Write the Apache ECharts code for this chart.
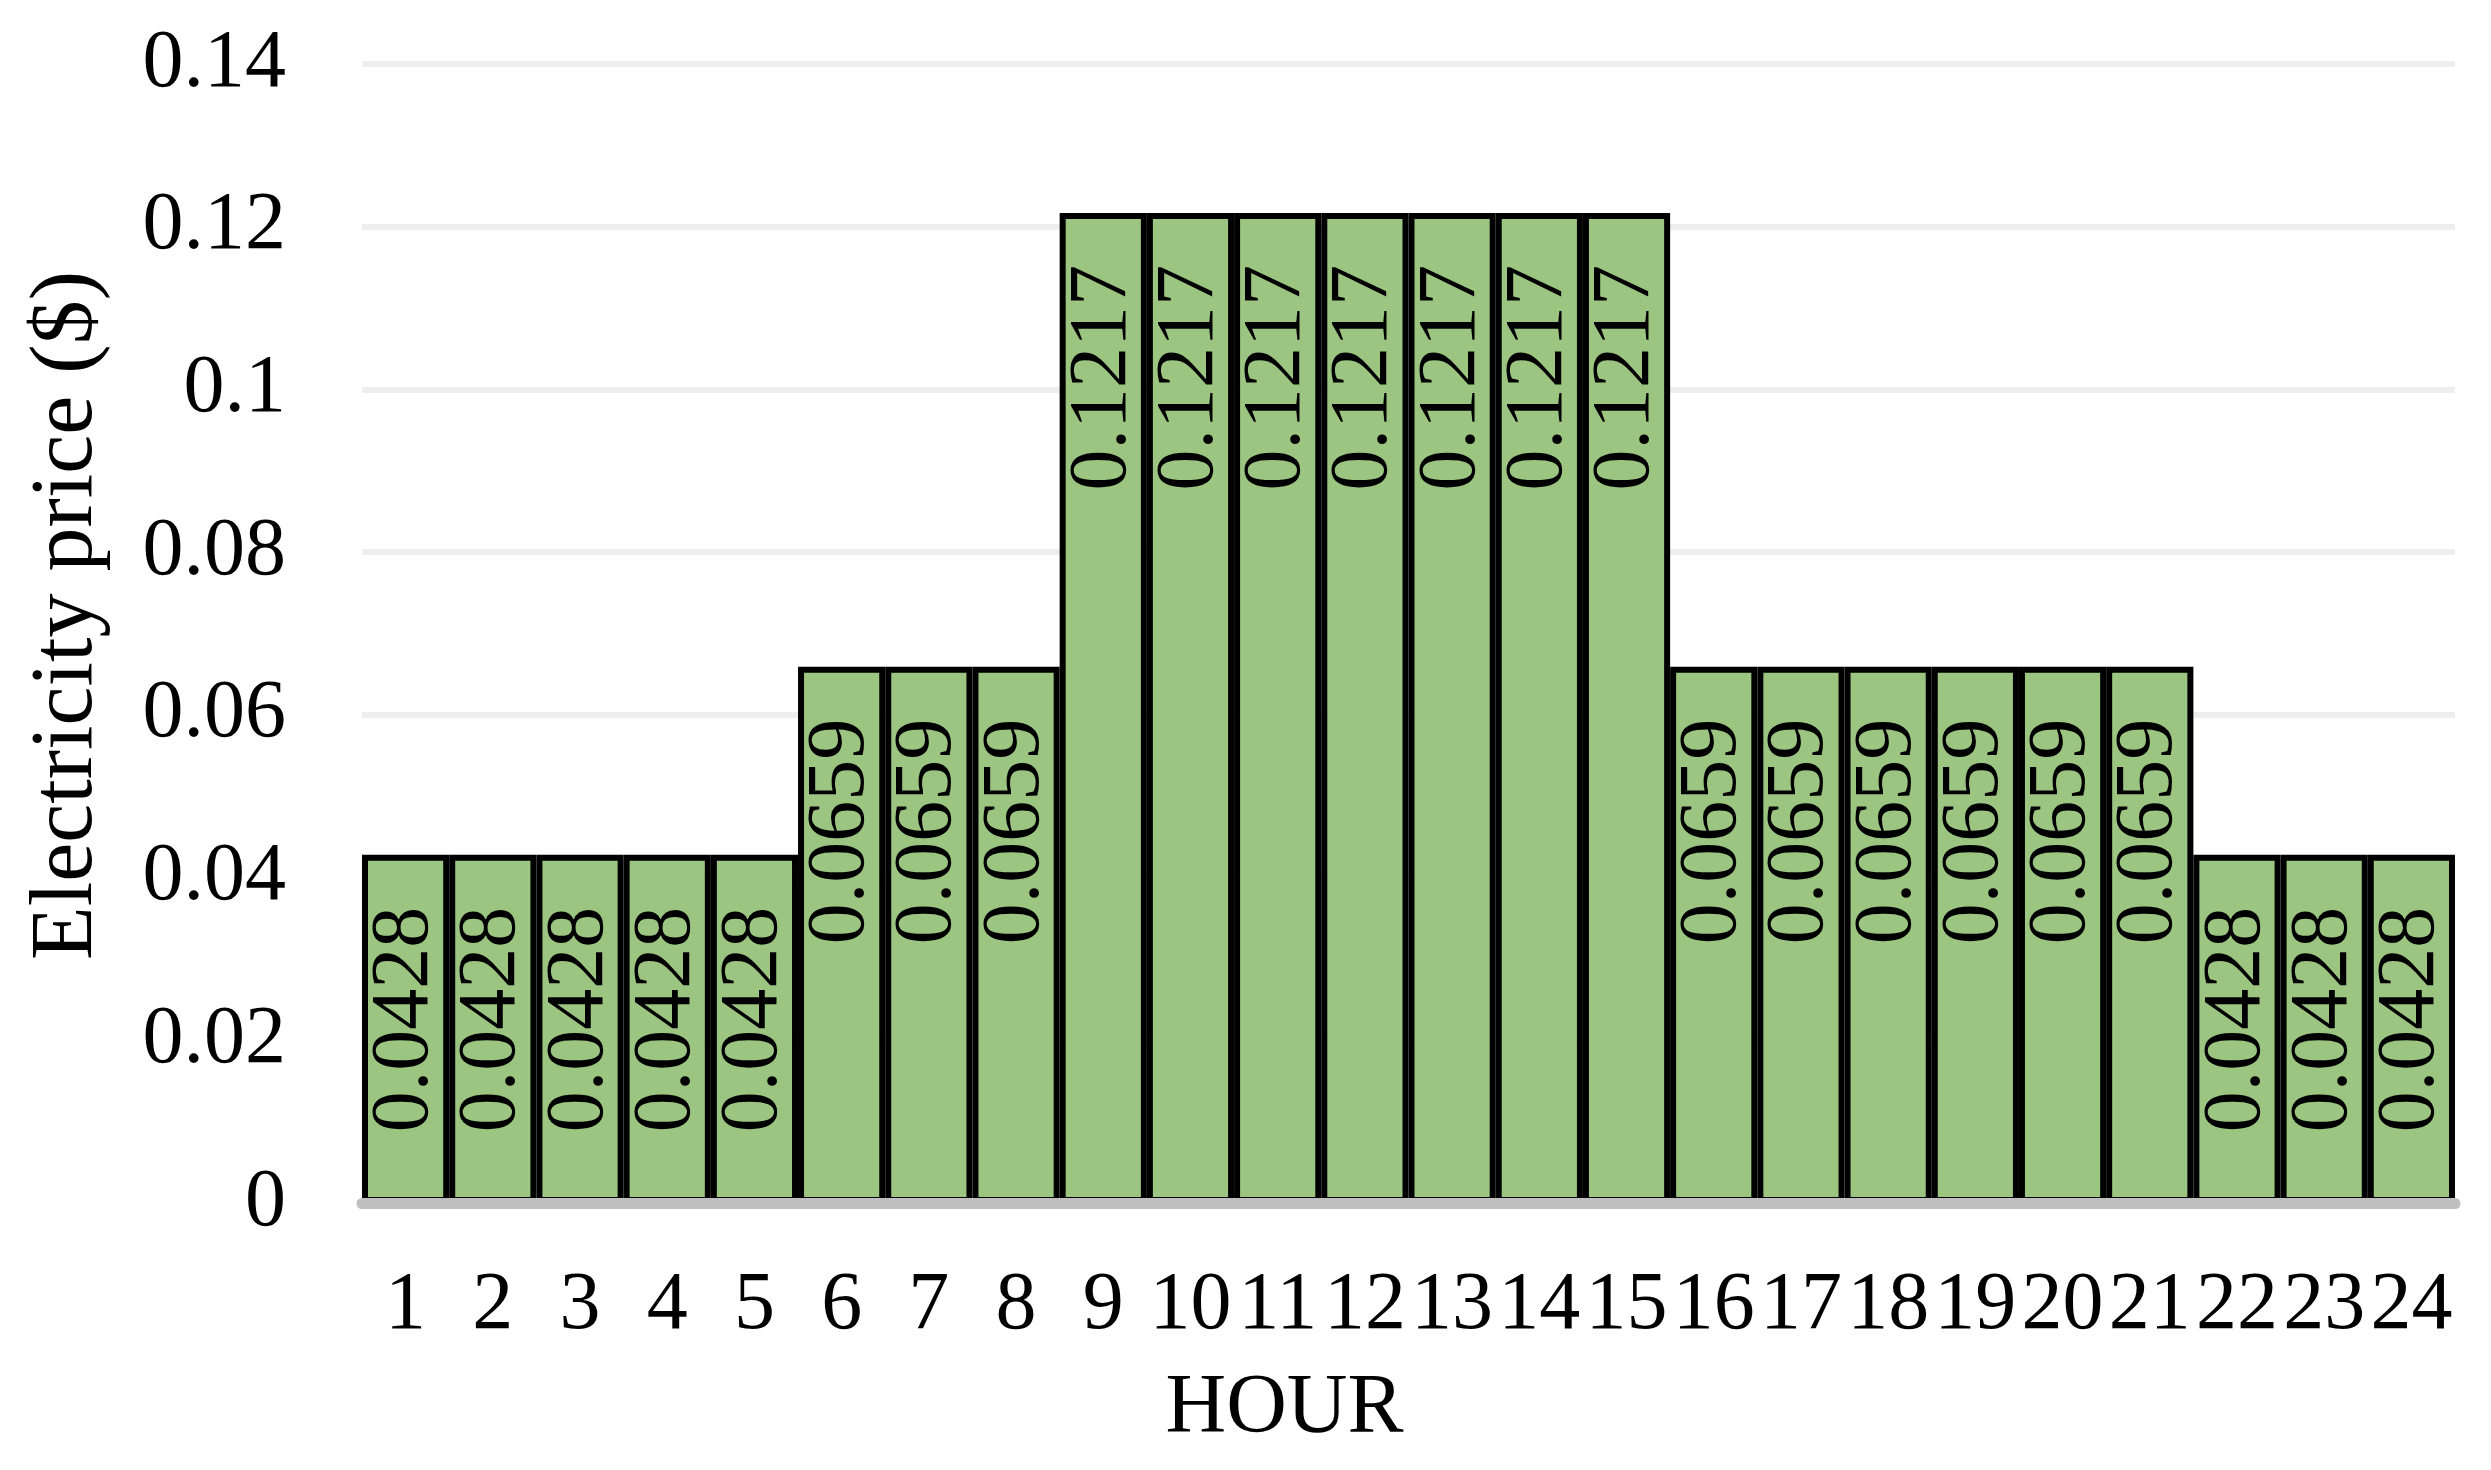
<!DOCTYPE html>
<html>
<head>
<meta charset="utf-8">
<title>Electricity price</title>
<script src="https://cdn.jsdelivr.net/npm/echarts@6/dist/echarts.min.js"></script>
<style>
    html, body { margin: 0; padding: 0; background: #fff; }
    #priceChart { width: 2491px; height: 1470px; }
</style>
</head>
<body>
<div id="priceChart"></div>
<script>
// hours on the x axis
var hours = ['1', '2', '3', '4', '5', '6', '7', '8', '9', '10', '11', '12',
    '13', '14', '15', '16', '17', '18', '19', '20', '21', '22', '23', '24'];

// price per hour ($)
var prices = [0.0428, 0.0428, 0.0428, 0.0428, 0.0428, 0.0659, 0.0659, 0.0659,
    0.1217, 0.1217, 0.1217, 0.1217, 0.1217, 0.1217, 0.1217,
    0.0659, 0.0659, 0.0659, 0.0659, 0.0659, 0.0659, 0.0428, 0.0428, 0.0428];

// y axis ticks
var yTicks = ['0', '0.02', '0.04', '0.06', '0.08', '0.1', '0.12', '0.14'];

var fontName = '"Liberation Serif", "Times New Roman", serif';

var myChart = echarts.init(document.getElementById('priceChart'));

myChart.setOption({
    backgroundColor: '#ffffff',
    animation: false,
    grid: {
        left: 362,
        right: 36,
        top: 64,
        bottom: 267
    },
    xAxis: {
        type: 'category',
        data: hours,
        z: 5,
        name: 'HOUR',
        nameLocation: 'middle',
        nameGap: 165,
        nameTextStyle: {
            color: '#000',
            fontSize: 84,
            fontFamily: fontName,
            padding: [0, 248, 0, 0] // title sits left of the plot centre
        },
        axisLine: {
            show: true,
            lineStyle: { color: '#bfbfbf', width: 11 }
        },
        axisTick: { show: false },
        axisLabel: {
            color: '#000',
            fontSize: 82,
            fontFamily: fontName,
            margin: 62,
            interval: 0
        }
    },
    yAxis: {
        type: 'value',
        min: 0,
        max: 0.14,
        interval: 0.02,
        name: 'Electricity price ($)',
        nameLocation: 'middle',
        nameGap: 250,
        nameRotate: 90,
        nameTextStyle: {
            color: '#000',
            fontSize: 88,
            fontFamily: fontName,
            padding: [0, 0, 0, 36]
        },
        axisLine: { show: false },
        axisTick: { show: false },
        axisLabel: {
            color: '#000',
            fontSize: 82,
            fontFamily: fontName,
            margin: 76,
            formatter: function (value) {
                return yTicks[Math.round(value / 0.02)];
            }
        },
        splitLine: {
            show: true,
            lineStyle: { color: '#eeeeee', width: 6 }
        }
    },
    series: [{
        type: 'bar',
        data: prices,
        barCategoryGap: '0%',
        itemStyle: {
            color: '#9cc581',
            borderColor: '#000',
            borderWidth: 6
        },
        label: {
            show: true,
            position: 'insideTop',
            distance: 52,
            rotate: 90,
            align: 'right',
            verticalAlign: 'middle',
            color: '#000',
            fontSize: 82,
            fontFamily: fontName
        }
    }]
});
</script>
</body>
</html>
